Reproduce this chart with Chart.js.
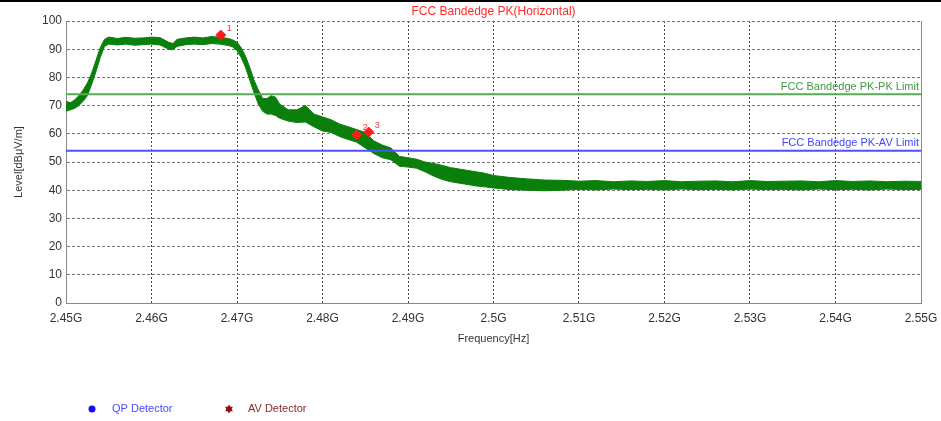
<!DOCTYPE html>
<html>
<head>
<meta charset="utf-8">
<title>FCC Bandedge PK(Horizontal)</title>
<script src="https://cdn.jsdelivr.net/npm/chart.js@4.4.1/dist/chart.umd.min.js"></script>
<style>
html, body { margin: 0; padding: 0; background: #fff; }
#wrap { position: relative; width: 941px; height: 421px; }
#topbar { position: absolute; left: 0; top: 0; width: 941px; height: 2px; background: #000; }
</style>
</head>
<body>
<div id="wrap"><canvas id="chart"></canvas><div id="topbar"></div></div>
<script>
// frequency points in GHz (denser where the trace changes fast)
const freqs = [
    2.4500, 2.4505, 2.4510, 2.4515, 2.4520, 2.4525, 2.4530, 2.4535, 2.4540, 2.4545,
    2.4550, 2.4560, 2.4570, 2.4580, 2.4590, 2.4600, 2.4610, 2.4620, 2.4625, 2.4630,
    2.4640, 2.4650, 2.4660, 2.4670, 2.4680, 2.4690, 2.4695, 2.4700, 2.4705, 2.4710,
    2.4715, 2.4720, 2.4725, 2.4730, 2.4735, 2.4740, 2.4745, 2.4750, 2.4760, 2.4770,
    2.4780, 2.4790, 2.4800, 2.4810, 2.4820, 2.4830, 2.4840, 2.4850, 2.4860, 2.4870,
    2.4880, 2.4890, 2.4900, 2.4910, 2.4920, 2.4930, 2.4940, 2.4950, 2.4960, 2.4970,
    2.4980, 2.4990, 2.5000, 2.5020, 2.5040, 2.5060, 2.5080, 2.5100, 2.5120, 2.5140,
    2.5160, 2.5180, 2.5200, 2.5220, 2.5240, 2.5260, 2.5280, 2.5300, 2.5320, 2.5340,
    2.5360, 2.5380, 2.5400, 2.5420, 2.5440, 2.5460, 2.5480, 2.5500
];
// upper edge of the noisy PK trace (dBuV/m)
const levelHi = [
    71.5, 71.0, 72.0, 73.5, 75.5, 78.0, 81.5, 86.0, 90.5, 93.5,
    94.3, 93.8, 94.2, 93.9, 94.0, 94.3, 94.1, 92.5, 92.0, 93.5,
    94.0, 94.3, 94.0, 94.5, 94.2, 93.8, 93.3, 92.5, 90.5, 87.5,
    83.5, 79.0, 75.5, 72.5, 72.5, 73.5, 73.0, 70.5, 68.5, 68.5,
    70.0, 67.0, 66.0, 65.0, 63.5, 62.5, 61.5, 60.5, 57.5, 56.0,
    55.0, 52.0, 51.5, 51.0, 50.0, 49.5, 48.8, 48.0, 47.5, 47.0,
    46.5, 46.0, 45.2, 44.5, 44.0, 43.6, 43.5, 43.2, 43.4, 43.0,
    43.3, 43.1, 43.4, 43.0, 43.2, 43.3, 43.0, 43.4, 43.1, 43.2,
    43.3, 43.0, 43.4, 43.1, 43.3, 43.0, 43.2, 43.1
];
// lower edge of the noisy PK trace (dBuV/m)
const levelLo = [
    68.0, 68.5, 69.0, 70.0, 71.5, 73.5, 77.5, 82.0, 87.0, 91.0,
    91.8, 91.5, 91.8, 91.4, 91.6, 91.8, 91.5, 90.0, 89.8, 91.0,
    91.6, 91.8, 91.6, 92.0, 91.8, 91.3, 90.8, 89.5, 87.0, 83.5,
    79.0, 74.5, 70.5, 68.0, 67.0, 67.0, 66.5, 65.5, 64.5, 64.0,
    64.2, 62.5, 61.0, 60.5, 59.0, 58.0, 57.0, 55.0, 53.0, 51.5,
    50.8, 48.5, 48.2, 47.8, 46.5, 45.0, 43.8, 43.0, 42.5, 42.0,
    41.5, 41.2, 40.8, 40.2, 40.0, 39.8, 40.0, 40.3, 40.1, 40.4,
    40.2, 40.3, 40.1, 40.4, 40.2, 40.3, 40.1, 40.4, 40.2, 40.3,
    40.1, 40.4, 40.2, 40.3, 40.1, 40.4, 40.2, 40.3
];
const pkLimit = 74;
const avLimit = 54;
const pkLimitLabel = 'FCC Bandedge PK-PK Limit';
const avLimitLabel = 'FCC Bandedge PK-AV Limit';
const markerFreqs = [2.4681, 2.4840, 2.4854];
const markerLevels = [95.0, 59.6, 60.6];
const markerNames = ['1', '2', '3'];
const chartTitle = 'FCC Bandedge PK(Horizontal)';
const legendNames = ['QP Detector', 'AV Detector'];

const FONT = 'Arial, "Liberation Sans", sans-serif';
const traceGreen = '#0b7f0b';

function pts(ys) {
    return freqs.map((f, i) => ({ x: f, y: ys[i] }));
}

function fmtFreq(v) {
    return parseFloat(Number(v).toFixed(2)) + 'G';
}

const overlayPlugin = {
    id: 'overlay',
    afterDraw(chart) {
        const ctx = chart.ctx;
        const a = chart.chartArea;
        const xs = chart.scales.x;
        const ys = chart.scales.y;
        ctx.save();
        // right frame line
        ctx.strokeStyle = '#888';
        ctx.lineWidth = 1;
        ctx.beginPath();
        ctx.moveTo(a.right + 0.5, a.top);
        ctx.lineTo(a.right + 0.5, a.bottom);
        ctx.stroke();

        // title
        ctx.font = '12px ' + FONT;
        ctx.fillStyle = '#ff2b2b';
        ctx.textAlign = 'center';
        ctx.textBaseline = 'middle';
        ctx.fillText(chartTitle, (a.left + a.right) / 2, 12);

        // limit labels
        ctx.font = '11px ' + FONT;
        ctx.textAlign = 'right';
        ctx.textBaseline = 'bottom';
        ctx.fillStyle = '#3f9a3f';
        ctx.fillText(pkLimitLabel, a.right - 2, ys.getPixelForValue(pkLimit) - 2);
        ctx.fillStyle = '#4646ff';
        ctx.fillText(avLimitLabel, a.right - 2, ys.getPixelForValue(avLimit) - 2);

        // marker numbers
        ctx.font = '9px ' + FONT;
        ctx.fillStyle = '#ff3030';
        ctx.textAlign = 'left';
        ctx.textBaseline = 'middle';
        for (let i = 0; i < markerNames.length; i++) {
            const px = xs.getPixelForValue(markerFreqs[i]);
            const py = ys.getPixelForValue(markerLevels[i]);
            ctx.fillText(markerNames[i], px + 6, py - 7);
        }

        // detector legend
        const ly = chart.height - 12;
        ctx.fillStyle = '#1010ee';
        ctx.beginPath();
        ctx.arc(92, ly, 3.5, 0, Math.PI * 2);
        ctx.fill();
        ctx.font = '11px ' + FONT;
        ctx.textBaseline = 'middle';
        ctx.fillStyle = '#4a4aff';
        ctx.fillText(legendNames[0], 112, ly);
        // six point star
        ctx.fillStyle = '#8b1010';
        const sx = 229, r = 4.5;
        for (const rot of [-Math.PI / 2, Math.PI / 2]) {
            ctx.beginPath();
            for (let k = 0; k < 3; k++) {
                const ang = rot + k * 2 * Math.PI / 3;
                const px = sx + r * Math.cos(ang), py = ly + r * Math.sin(ang);
                if (k === 0) ctx.moveTo(px, py); else ctx.lineTo(px, py);
            }
            ctx.closePath();
            ctx.fill();
        }
        ctx.fillStyle = '#8b2a2a';
        ctx.fillText(legendNames[1], 248, ly);
        ctx.restore();
    }
};

new Chart(document.getElementById('chart'), {
    type: 'line',
    data: {
        datasets: [
            {
                label: 'PK low',
                data: pts(levelLo),
                borderColor: traceGreen,
                borderWidth: 1,
                pointRadius: 0,
                fill: false,
                order: 3
            },
            {
                label: 'PK high',
                data: pts(levelHi),
                borderColor: traceGreen,
                backgroundColor: traceGreen,
                borderWidth: 1,
                pointRadius: 0,
                fill: '-1',
                order: 3
            },
            {
                label: pkLimitLabel,
                data: [{ x: freqs[0], y: pkLimit }, { x: freqs[freqs.length - 1], y: pkLimit }],
                borderColor: '#56ad56',
                borderWidth: 2,
                pointRadius: 0,
                order: 2
            },
            {
                label: avLimitLabel,
                data: [{ x: freqs[0], y: avLimit }, { x: freqs[freqs.length - 1], y: avLimit }],
                borderColor: '#4f4fff',
                borderWidth: 2,
                pointRadius: 0,
                order: 2
            },
            {
                label: 'Markers',
                data: markerFreqs.map((f, i) => ({ x: f, y: markerLevels[i] })),
                showLine: false,
                pointStyle: 'rectRot',
                pointRadius: 5,
                pointBackgroundColor: '#ff1a1a',
                pointBorderColor: '#ff1a1a',
                order: 1
            }
        ]
    },
    options: {
        responsive: true,
        maintainAspectRatio: false,
        animation: false,
        layout: { padding: { left: 8, right: 20, top: 21, bottom: 71 } },
        plugins: {
            legend: { display: false },
            title: { display: false },
            tooltip: { enabled: false }
        },
        scales: {
            x: {
                type: 'linear',
                min: 2.45,
                max: 2.55,
                afterFit: s => { s.height = 47; s.paddingRight = 0; s.paddingLeft = 0; },
                ticks: {
                    stepSize: 0.01,
                    padding: 8,
                    color: '#333',
                    font: { family: FONT, size: 12 },
                    maxRotation: 0,
                    callback: v => fmtFreq(v)
                },
                grid: { color: '#444', drawTicks: false },
                border: { color: '#888', width: 1, dash: [2, 2] },
                title: {
                    display: true,
                    text: 'Frequency[Hz]',
                    color: '#333',
                    font: { family: FONT, size: 11 }
                }
            },
            y: {
                min: 0,
                max: 100,
                afterFit: s => { s.width = 58; },
                ticks: {
                    stepSize: 10,
                    padding: 4,
                    color: '#333',
                    font: { family: FONT, size: 12 }
                },
                grid: { color: '#777', drawTicks: false },
                border: { color: '#888', width: 1, dash: [3, 2] },
                title: {
                    display: true,
                    text: 'Level[dBμV/m]',
                    color: '#333',
                    font: { family: FONT, size: 11 }
                }
            }
        }
    },
    plugins: [overlayPlugin]
});
</script>
</body>
</html>
